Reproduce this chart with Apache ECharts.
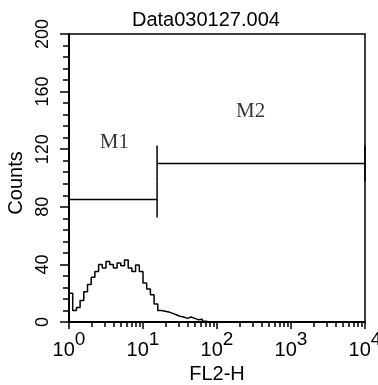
<!DOCTYPE html>
<html>
<head>
<meta charset="utf-8">
<script src="https://cdn.jsdelivr.net/npm/echarts@6/dist/echarts.min.js"></script>
<style>
  html, body { margin: 0; padding: 0; background: #fff; }
  #chart { width: 378px; height: 385px; }
</style>
</head>
<body>
<div id="chart"></div>
<script>
// FL2-H histogram: counts per bin, bins are 0.05 decade wide starting at 10^0
const binStartDecade = 0;
const binWidthDecade = 0.05;
const binCounts = [
  20, 8, 10, 15, 21, 26, 31, 35, 40, 37.5,
  42, 40, 37.5, 41, 39, 43, 37.5, 35, 39.5, 35,
  27, 23, 19, 12.5, 8, 7.5, 7, 6, 5, 4,
  3.5, 2.5, 3.5, 2.5, 1.5, 2, 0.5, 0, 0, 0
];

// Marker gates: [low, high] in FL2-H and the count level where each is drawn
const gateNames = ['M1', 'M2'];
const gateRanges = [[1, 15.5], [15.5, 10000]];
const gateLevels = [85, 110];
const gateCap = 12.5;
// label anchor points for the gate names [FL2-H, count]
const gateLabelPos = [[4.1, 125], [285, 146]];

// axis ticks
const xDecades = [1, 10, 100, 1000, 10000];
const xMinorTicks = [];
for (let d = 1; d < 10000; d *= 10) {
  for (let m = 2; m <= 9; m++) xMinorTicks.push(d * m);
}
const yTicks = [0, 40, 80, 120, 160, 200];

const FONT = '"Liberation Sans", Arial, sans-serif';
const SERIF = '"Liberation Serif", "Times New Roman", serif';

// step histogram points at bin left edges, closed with the last right edge
const histPoints = binCounts.map((c, k) => [Math.pow(10, binStartDecade + k * binWidthDecade), c]);
histPoints.push([Math.pow(10, binStartDecade + binCounts.length * binWidthDecade), binCounts[binCounts.length - 1]]);

function gatePath(range, level) {
  const [lo, hi] = range;
  return [
    [lo, level - gateCap], [lo, level + gateCap], [lo, level],
    [hi, level], [hi, level + gateCap], [hi, level - gateCap]
  ];
}

const chart = echarts.init(document.getElementById('chart'), null, { renderer: 'canvas' });

const gateSeries = gateNames.map((n, i) => ({
  type: 'line',
  name: n,
  data: gatePath(gateRanges[i], gateLevels[i]),
  showSymbol: false,
  silent: true,
  animation: false,
  lineStyle: { color: '#000', width: 1.5 },
  z: 3
}));

chart.setOption({
  animation: false,
  title: {
    text: 'Data030127.004',
    left: 127,
    top: 5,
    textStyle: { fontFamily: FONT, fontSize: 20, fontWeight: 'normal', color: '#000' }
  },
  grid: {
    left: 69, top: 34, width: 296, height: 288,
    outerBoundsMode: 'none',
    containLabel: false,
    show: true, borderColor: '#000', borderWidth: 1.5, backgroundColor: '#fff'
  },
  xAxis: [{
    type: 'log',
    logBase: 10,
    min: xDecades[0],
    max: xDecades[xDecades.length - 1],
    name: 'FL2-H',
    nameLocation: 'middle',
    nameGap: 36,
    nameTextStyle: { fontFamily: FONT, fontSize: 20, color: '#000' },
    axisLine: { show: true, lineStyle: { color: '#000', width: 2 } },
    axisTick: { show: true, length: 7, lineStyle: { color: '#000', width: 1.5 } },
    splitLine: { show: false },
    axisLabel: {
      margin: 8,
      color: '#000',
      formatter: v => '{b|10}{e|' + Math.round(Math.log10(v)) + '}',
      rich: {
        b: { fontFamily: FONT, fontSize: 20, lineHeight: 30, verticalAlign: 'bottom', color: '#000' },
        e: { fontFamily: FONT, fontSize: 19, lineHeight: 20, verticalAlign: 'top', color: '#000' }
      }
    }
  }, {
    type: 'log',
    logBase: 10,
    min: xDecades[0],
    max: xDecades[xDecades.length - 1],
    position: 'bottom',
    axisLine: { show: false },
    axisLabel: { show: false },
    splitLine: { show: false },
    axisTick: { show: true, length: 5, customValues: xMinorTicks, lineStyle: { color: '#000', width: 1.5 } }
  }],
  yAxis: {
    type: 'value',
    min: yTicks[0],
    max: yTicks[yTicks.length - 1],
    interval: 40,
    name: 'Counts',
    nameLocation: 'middle',
    nameGap: 38,
    nameTextStyle: { fontFamily: FONT, fontSize: 20, color: '#000', padding: [0, 10, 0, 0] },
    axisLine: { show: true, lineStyle: { color: '#000', width: 2 } },
    axisTick: { show: true, length: 9, lineStyle: { color: '#000', width: 1.5 } },
    minorTick: { show: true, splitNumber: 5, length: 6, lineStyle: { color: '#000', width: 1.5 } },
    splitLine: { show: false },
    axisLabel: {
      rotate: 90,
      margin: 17,
      fontFamily: FONT,
      fontSize: 18,
      color: '#000'
    }
  },
  series: [
    {
      type: 'line',
      name: 'FL2-H',
      step: 'end',
      data: histPoints,
      showSymbol: false,
      silent: true,
      lineStyle: { color: '#000', width: 1.5 },
      z: 4
    },
    ...gateSeries,
    {
      type: 'scatter',
      data: gateNames.map((n, i) => ({ name: n, value: gateLabelPos[i] })),
      symbolSize: 0,
      silent: true,
      label: {
        show: true,
        position: 'inside',
        formatter: p => p.name,
        fontFamily: SERIF,
        fontSize: 21,
        color: '#000'
      }
    }
  ]
});
</script>
</body>
</html>
